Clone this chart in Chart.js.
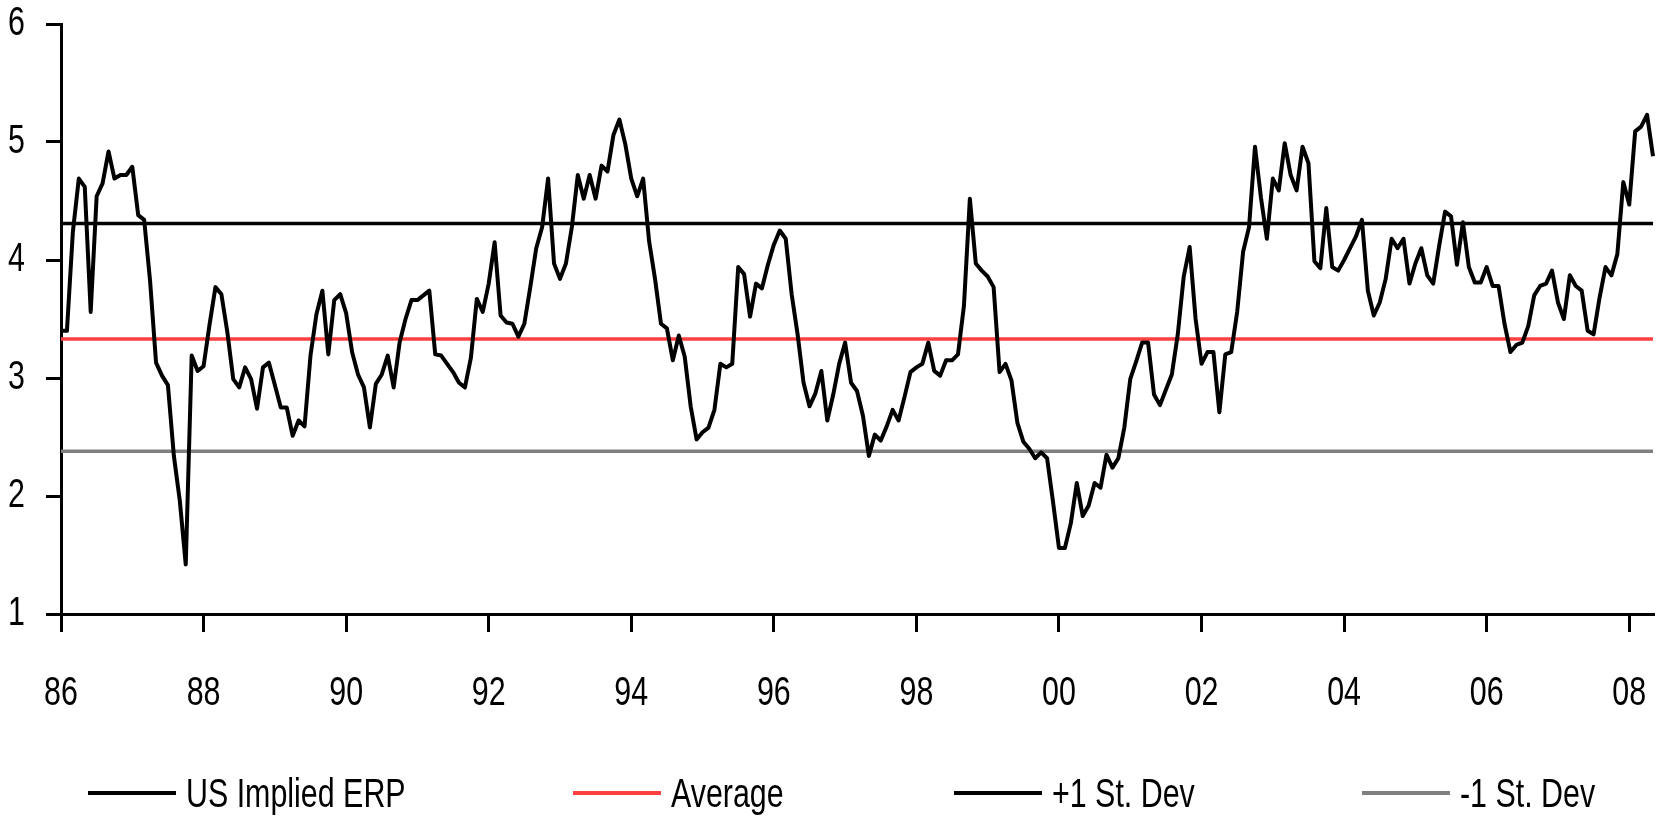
<!DOCTYPE html>
<html>
<head>
<meta charset="utf-8">
<title>US Implied ERP</title>
<script src="https://cdn.jsdelivr.net/npm/chart.js@4.4.1/dist/chart.umd.min.js"></script>
<style>
	html, body { margin: 0; padding: 0; background: #fff; }
	#wrap { position: relative; width: 1656px; height: 817px; }
	#chart { display: block; }
	#legend {
		position: absolute; left: 0; top: 773px; width: 1656px; height: 40px;
		font-family: "Liberation Sans", Arial, sans-serif;
		font-size: 40px; line-height: 40px; color: #000;
	}
	#legend .item { position: absolute; top: 0; height: 40px; display: flex; align-items: center; white-space: nowrap; }
	#legend .sample { display: inline-block; width: 88px; height: 4px; margin-right: 10px; }
	/* the original uses a very condensed face, so squeeze the text sideways */
	#legend .text { display: inline-block; transform: scaleX(0.76); transform-origin: left center; }
</style>
</head>
<body>
<div id="wrap">
	<canvas id="chart" width="1656" height="817"></canvas>
	<div id="legend"></div>
</div>
<script>
// monthly US implied equity risk premium, Jan 1986 onwards (%)
var erp = [
	3.40, 3.40, 4.24, 4.69, 4.62, 3.56, 4.54, 4.65, 4.92, 4.69, 4.72, 4.72,
	4.79, 4.38, 4.34, 3.82, 3.13, 3.02, 2.94, 2.34, 1.96, 1.42, 3.19, 3.06,
	3.10, 3.45, 3.77, 3.71, 3.39, 2.99, 2.92, 3.09, 2.99, 2.74, 3.09, 3.13,
	2.94, 2.75, 2.75, 2.51, 2.64, 2.59, 3.19, 3.54, 3.74, 3.20, 3.66, 3.71,
	3.55, 3.22, 3.03, 2.92, 2.58, 2.95, 3.03, 3.19, 2.92, 3.30, 3.50, 3.66,
	3.66, 3.70, 3.74, 3.20, 3.19, 3.12, 3.05, 2.96, 2.92, 3.17, 3.67, 3.56,
	3.80, 4.15, 3.53, 3.47, 3.46, 3.35, 3.46, 3.77, 4.10, 4.28, 4.69, 3.97,
	3.84, 3.97, 4.28, 4.72, 4.52, 4.72, 4.52, 4.80, 4.75, 5.06, 5.19, 4.98,
	4.69, 4.54, 4.69, 4.16, 3.84, 3.46, 3.42, 3.15, 3.36, 3.18, 2.76, 2.48,
	2.54, 2.58, 2.73, 3.12, 3.09, 3.12, 3.94, 3.88, 3.52, 3.80, 3.76, 3.96,
	4.13, 4.25, 4.18, 3.71, 3.37, 2.96, 2.76, 2.87, 3.06, 2.64, 2.86, 3.12,
	3.30, 2.96, 2.89, 2.68, 2.34, 2.52, 2.47, 2.59, 2.73, 2.64, 2.84, 3.05,
	3.09, 3.12, 3.30, 3.06, 3.02, 3.15, 3.15, 3.20, 3.61, 4.52, 3.97, 3.91,
	3.86, 3.77, 3.05, 3.12, 2.98, 2.62, 2.46, 2.40, 2.32, 2.37, 2.32, 1.95,
	1.56, 1.56, 1.77, 2.11, 1.83, 1.92, 2.11, 2.07, 2.35, 2.24, 2.32, 2.58,
	2.99, 3.14, 3.30, 3.30, 2.86, 2.77, 2.90, 3.03, 3.37, 3.86, 4.11, 3.50,
	3.12, 3.22, 3.22, 2.71, 3.20, 3.22, 3.56, 4.07, 4.28, 4.96, 4.53, 4.18,
	4.69, 4.59, 4.99, 4.72, 4.59, 4.96, 4.82, 3.99, 3.93, 4.44, 3.94, 3.91,
	4.00, 4.10, 4.20, 4.34, 3.74, 3.53, 3.64, 3.84, 4.18, 4.10, 4.18, 3.80,
	3.97, 4.10, 3.87, 3.80, 4.12, 4.41, 4.37, 3.96, 4.32, 3.94, 3.81, 3.81,
	3.94, 3.78, 3.78, 3.46, 3.22, 3.28, 3.30, 3.44, 3.70, 3.78, 3.80, 3.91,
	3.64, 3.50, 3.87, 3.78, 3.74, 3.40, 3.37, 3.68, 3.94, 3.87, 4.05, 4.66,
	4.47, 5.09, 5.13, 5.23, 4.88
];

var average = 3.33;
var plusOneSd = 4.31;
var minusOneSd = 2.38;

var yearTicks = ["86", "88", "90", "92", "94", "96", "98", "00", "02", "04", "06", "08"];
var monthNames = ["Jan", "Feb", "Mar", "Apr", "May", "Jun", "Jul", "Aug", "Sep", "Oct", "Nov", "Dec"];
var seriesNames = ["US Implied ERP", "Average", "+1 St. Dev", "-1 St. Dev"];
var seriesColours = ["#000000", "#ff4040", "#000000", "#808080"];
var seriesWidths = [4, 3.5, 3.5, 3.5];
var legendLeft = [88, 573, 954, 1362];

var months = erp.map(function (_, i) {
	return monthNames[i % 12] + " " + (1986 + Math.floor(i / 12));
});

var flat = function (level) {
	return erp.map(function () {
		return level;
	});
};

var font = {
	family: "'Liberation Sans', Arial, sans-serif",
	size: 40,
};

// horizontal squeeze for all canvas text (no narrow face installed)
var squish = 0.76;
var narrowText = {
	id: "narrowText",
	beforeInit: function (chart) {
		var ctx = chart.ctx;
		var fillText = ctx.fillText;
		var measureText = ctx.measureText;

		ctx.fillText = function (text, x, y) {
			this.save();
			this.translate(x, y);
			this.scale(squish, 1);
			fillText.call(this, text, 0, 0);
			this.restore();
		};
		ctx.measureText = function (text) {
			var m = measureText.call(this, text);
			return {
				width: m.width * squish,
				actualBoundingBoxAscent: m.actualBoundingBoxAscent,
				actualBoundingBoxDescent: m.actualBoundingBoxDescent,
			};
		};
	},
};

var lineSet = function (i, data) {
	return {
		label: seriesNames[i],
		data: data,
		borderColor: seriesColours[i],
		backgroundColor: seriesColours[i],
		borderWidth: seriesWidths[i],
		borderJoinStyle: "round",
		pointRadius: 0,
		tension: 0,
		fill: false,
	};
};

var chart = new Chart(document.getElementById("chart"), {
	type: "line",
	data: {
		labels: months,
		datasets: [
			lineSet(0, erp),
			lineSet(1, flat(average)),
			lineSet(2, flat(plusOneSd)),
			lineSet(3, flat(minusOneSd)),
		],
	},
	plugins: [narrowText],
	options: {
		responsive: false,
		devicePixelRatio: 1,
		animation: false,
		layout: { padding: { top: 24, right: 3, left: 0, bottom: 0 } },
		plugins: {
			legend: { display: false },
			tooltip: { enabled: false },
		},
		scales: {
			x: {
				type: "category",
				offset: false,
				afterBuildTicks: function (scale) {
					// one labelled tick every two years
					scale.ticks = scale.ticks.filter(function (tick) {
						return tick.value % 24 === 0;
					});
				},
				afterFit: function (scale) {
					scale.height = 203;
					scale.paddingLeft = 0;
					scale.paddingRight = 0;
				},
				grid: {
					drawOnChartArea: false,
					tickLength: 18,
					color: "#000",
					lineWidth: 3,
				},
				border: { color: "#000", width: 3 },
				ticks: {
					autoSkip: false,
					maxRotation: 0,
					padding: 38,
					color: "#000",
					font: font,
					callback: function (value) {
						return yearTicks[value / 24];
					},
				},
			},
			y: {
				min: 1,
				max: 6,
				afterFit: function (scale) {
					scale.width = 61;
					scale.paddingTop = 0;
					scale.paddingBottom = 0;
				},
				grid: {
					drawOnChartArea: false,
					tickLength: 15,
					color: "#000",
					lineWidth: 3,
				},
				border: { color: "#000", width: 3 },
				ticks: {
					stepSize: 1,
					padding: 21,
					color: "#000",
					font: font,
				},
			},
		},
	},
});

// legend sits in html under the canvas, placed like the original
var legend = document.getElementById("legend");
chart.data.datasets.forEach(function (ds, i) {
	var item = document.createElement("span");
	item.className = "item";
	item.style.left = legendLeft[i] + "px";

	var sample = document.createElement("span");
	sample.className = "sample";
	sample.style.background = ds.borderColor;
	item.appendChild(sample);

	var text = document.createElement("span");
	text.className = "text";
	text.textContent = ds.label;
	item.appendChild(text);

	legend.appendChild(item);
});
</script>
</body>
</html>
